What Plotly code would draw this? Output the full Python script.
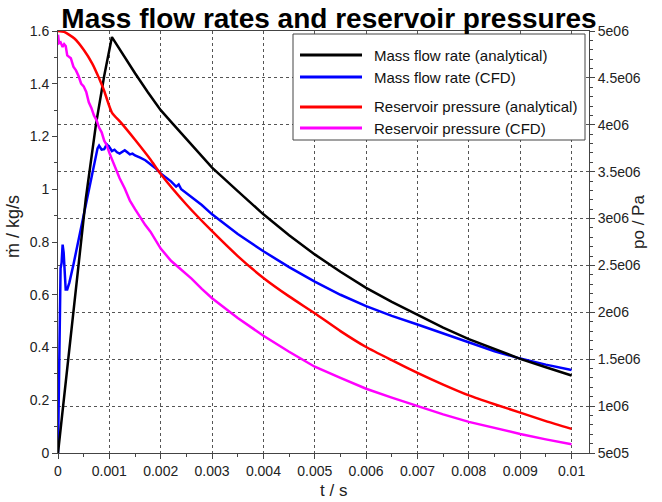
import plotly.graph_objects as go

# ---------------- data ----------------
t_black = [0, 0.00012, 0.00025, 0.0004, 0.00054, 0.00074, 0.0009, 0.00105,
           0.00125, 0.0015, 0.00175, 0.002, 0.00225, 0.0025, 0.00275, 0.003,
           0.0035, 0.004, 0.0045, 0.005, 0.0055, 0.006, 0.0065, 0.007, 0.0075,
           0.008, 0.0085, 0.009, 0.0095, 0.01]
m_black = [0, 0.215, 0.45, 0.72, 0.962, 1.247, 1.43, 1.577,
           1.515, 1.44, 1.368, 1.30, 1.245, 1.19, 1.135, 1.082,
           0.993, 0.905, 0.826, 0.753, 0.687, 0.626, 0.573, 0.523, 0.475,
           0.432, 0.393, 0.357, 0.325, 0.294]

t_blue = [0, 0.00001, 0.00002, 0.00003, 0.00005, 0.00007, 0.00009, 0.00011,
          0.00013, 0.00015, 0.00018, 0.00022, 0.0003, 0.0004, 0.0005, 0.0006,
          0.0007, 0.00077, 0.0008, 0.00085, 0.0009, 0.00095, 0.001, 0.00105,
          0.0011, 0.00115, 0.0012, 0.00125, 0.0013, 0.00135, 0.0014, 0.00145,
          0.0015, 0.0016, 0.0017, 0.0018, 0.0019, 0.002, 0.0021, 0.0022,
          0.0023, 0.00235, 0.0024, 0.0025, 0.0026, 0.0027, 0.0028, 0.003,
          0.0032, 0.0035, 0.004, 0.0045, 0.005, 0.0055, 0.006, 0.0065, 0.007,
          0.0075, 0.008, 0.0085, 0.009, 0.0095, 0.01]
m_blue = [0, 0.15, 0.40, 0.54, 0.70, 0.72, 0.79, 0.76,
          0.66, 0.62, 0.62, 0.645, 0.714, 0.806, 0.898, 0.99,
          1.08, 1.155, 1.165, 1.15, 1.152, 1.17, 1.16, 1.145,
          1.15, 1.14, 1.135, 1.14, 1.148, 1.14, 1.132, 1.135,
          1.128, 1.12, 1.11, 1.095, 1.08, 1.06, 1.045, 1.03,
          1.01, 1.018, 1.0, 0.985, 0.97, 0.955, 0.94, 0.905,
          0.875, 0.83, 0.765, 0.705, 0.65, 0.60, 0.557, 0.52, 0.487,
          0.453, 0.418, 0.386, 0.358, 0.335, 0.315]

t_red = [0, 0.00012, 0.00032, 0.0005, 0.00067, 0.0008, 0.0009, 0.00105,
         0.00123, 0.0015, 0.0018, 0.002, 0.0025, 0.003, 0.0035, 0.004, 0.0045,
         0.005, 0.0055, 0.006, 0.0065, 0.007, 0.0075, 0.008, 0.0085, 0.009,
         0.0095, 0.01]
p_red = [5.0e6, 4.99e6, 4.92e6, 4.80e6, 4.65e6, 4.495e6, 4.36e6, 4.13e6,
         4.02e6, 3.84e6, 3.63e6, 3.475e6, 3.15e6, 2.865e6, 2.60e6, 2.367e6, 2.17e6,
         1.99e6, 1.80e6, 1.63e6, 1.49e6, 1.355e6, 1.23e6, 1.115e6, 1.02e6, 0.931e6,
         0.84e6, 0.757e6]

t_mag = [0, 0.00002, 0.00005, 0.00009, 0.00012, 0.00015, 0.00018, 0.00025,
         0.0003, 0.00035, 0.0004, 0.00045, 0.0005, 0.00055, 0.0006, 0.00065,
         0.0007, 0.00075, 0.0008, 0.00085, 0.0009, 0.00095, 0.001, 0.00105,
         0.0011, 0.00115, 0.0012, 0.0013, 0.0014, 0.0015, 0.0016, 0.0017,
         0.0018, 0.0019, 0.002, 0.0022, 0.0024, 0.0026, 0.0028, 0.003, 0.0035,
         0.004, 0.0045, 0.005, 0.0055, 0.006, 0.0065, 0.007, 0.0075, 0.008,
         0.0085, 0.009, 0.0095, 0.01]
p_mag = [4.96e6, 4.87e6, 4.88e6, 4.83e6, 4.86e6, 4.84e6, 4.74e6, 4.71e6,
         4.62e6, 4.58e6, 4.52e6, 4.44e6, 4.41e6, 4.35e6, 4.24e6, 4.18e6,
         4.10e6, 4.05e6, 3.97e6, 3.92e6, 3.83e6, 3.78e6, 3.70e6, 3.63e6,
         3.57e6, 3.50e6, 3.43e6, 3.32e6, 3.19e6, 3.10e6, 3.01e6, 2.93e6,
         2.86e6, 2.77e6, 2.68e6, 2.55e6, 2.46e6, 2.36e6, 2.25e6, 2.15e6, 1.94e6,
         1.75e6, 1.58e6, 1.42e6, 1.30e6, 1.185e6, 1.09e6, 1.0e6, 0.912e6, 0.832e6,
         0.765e6, 0.703e6, 0.645e6, 0.593e6]

x_ticks = [0, 0.001, 0.002, 0.003, 0.004, 0.005, 0.006, 0.007, 0.008, 0.009, 0.01]
x_labels = ["0", "0.001", "0.002", "0.003", "0.004", "0.005", "0.006",
            "0.007", "0.008", "0.009", "0.01"]
y_ticks = [0, 0.2, 0.4, 0.6, 0.8, 1.0, 1.2, 1.4, 1.6]
y_labels = ["0", "0.2", "0.4", "0.6", "0.8", "1", "1.2", "1.4", "1.6"]
y2_ticks = [5e5, 1e6, 1.5e6, 2e6, 2.5e6, 3e6, 3.5e6, 4e6, 4.5e6, 5e6]
y2_labels = ["5e05", "1e06", "1.5e06", "2e06", "2.5e06", "3e06", "3.5e06",
             "4e06", "4.5e06", "5e06"]

legend_names = ["Mass flow rate (analytical)", "Mass flow rate (CFD)",
                "Reservoir pressure (analytical)", "Reservoir pressure (CFD)"]
colors = ["#000000", "#0000ff", "#ff0000", "#ff00ff"]

# ---------------- figure ----------------
W, H = 662, 502
L, R, T, B = 58, 589, 31, 453       # plot area in pixels
pw, ph = R - L, B - T


def px(x):
    return (x - L) / pw


def py(y):
    return (B - y) / ph


fig = go.Figure()
fig.add_trace(go.Scatter(x=t_mag, y=p_mag, yaxis="y2", mode="lines",
                         line=dict(color=colors[3], width=2.5), name=legend_names[3]))
fig.add_trace(go.Scatter(x=t_red, y=p_red, yaxis="y2", mode="lines",
                         line=dict(color=colors[2], width=2.5, shape="spline", smoothing=0.6),
                         name=legend_names[2]))
fig.add_trace(go.Scatter(x=t_blue, y=m_blue, mode="lines",
                         line=dict(color=colors[1], width=2.5), name=legend_names[1]))
fig.add_trace(go.Scatter(x=t_black, y=m_black, mode="lines",
                         line=dict(color=colors[0], width=2.5), name=legend_names[0]))

font_main = "Liberation Sans, Arial, sans-serif"
tick_font = dict(family=font_main, size=14, color="#222222")
grid_col = "#555555"

fig.update_layout(
    width=W, height=H,
    margin=dict(l=L, r=W - R, t=T, b=H - B, pad=0),
    paper_bgcolor="white", plot_bgcolor="white",
    showlegend=False,
    title=dict(text="<b>Mass flow rates and reservoir pressures</b>",
               x=329 / W, xanchor="center", xref="container",
               y=1 - 18 / H, yanchor="middle", yref="container",
               font=dict(family=font_main, size=28, color="black")),
    xaxis=dict(range=[0, 0.01034], tickmode="array", tickvals=x_ticks, ticktext=x_labels,
               ticks="outside", ticklen=5, tickcolor="#444", tickfont=tick_font,
               showline=True, linecolor="#444", linewidth=1, mirror=True,
               showgrid=True, gridcolor=grid_col, gridwidth=1, griddash="3px,3px",
               zeroline=False,
               minor=dict(tickmode="linear", tick0=0, dtick=0.0005, ticks="outside",
                          ticklen=3, tickcolor="#444", showgrid=False)),
    yaxis=dict(range=[0, 1.6], tickmode="array", tickvals=y_ticks, ticktext=y_labels,
               ticks="outside", ticklen=5, tickcolor="#444", tickfont=tick_font,
               showline=True, linecolor="#444", linewidth=1,
               showgrid=False, zeroline=False,
               minor=dict(tickmode="linear", tick0=0, dtick=0.1, ticks="outside",
                          ticklen=3, tickcolor="#444", showgrid=False)),
    yaxis2=dict(range=[5e5, 5e6], overlaying="y", side="right",
                tickmode="array", tickvals=y2_ticks, ticktext=y2_labels,
                ticks="outside", ticklen=5, tickcolor="#444", tickfont=tick_font,
                showline=True, linecolor="#444", linewidth=1,
                showgrid=True, gridcolor=grid_col, gridwidth=1, griddash="3px,3px",
                zeroline=False,
                minor=dict(tickmode="linear", tick0=0, dtick=1e5, ticks="outside",
                           ticklen=3, tickcolor="#444", showgrid=False)),
)

# axis titles
fig.add_annotation(text="ṁ / kg/s", x=px(13), y=py(227), xref="paper", yref="paper",
                   textangle=-90, showarrow=False, xanchor="center", yanchor="middle",
                   font=dict(family=font_main, size=18, color="#222"))
fig.add_annotation(text="po / Pa", x=px(639), y=py(222), xref="paper", yref="paper",
                   textangle=-90, showarrow=False, xanchor="center", yanchor="middle",
                   font=dict(family=font_main, size=17, color="#222"))
fig.add_annotation(text="t / s", x=px(333), y=py(491), xref="paper", yref="paper",
                   showarrow=False, xanchor="center", yanchor="middle",
                   font=dict(family=font_main, size=17, color="#222"))

# custom legend box
fig.add_shape(type="rect", xref="paper", yref="paper",
              x0=px(293), x1=px(585), y0=py(140), y1=py(34),
              line=dict(color="#444", width=1), fillcolor="white", layer="above")
legend_y = [55, 77, 107, 128]
for name, col, ly in zip(legend_names, colors, legend_y):
    fig.add_shape(type="line", xref="paper", yref="paper",
                  x0=px(300), x1=px(362), y0=py(ly), y1=py(ly),
                  line=dict(color=col, width=3), layer="above")
    fig.add_annotation(text=name, x=px(372), y=py(ly), xref="paper", yref="paper",
                       showarrow=False, xanchor="left", yanchor="middle",
                       font=dict(family=font_main, size=15, color="#111"))

fig.write_html("out.html",
               config={"displayModeBar": False},
               post_script="document.body.style.margin='0';"
                           "document.body.style.overflow='hidden';")
